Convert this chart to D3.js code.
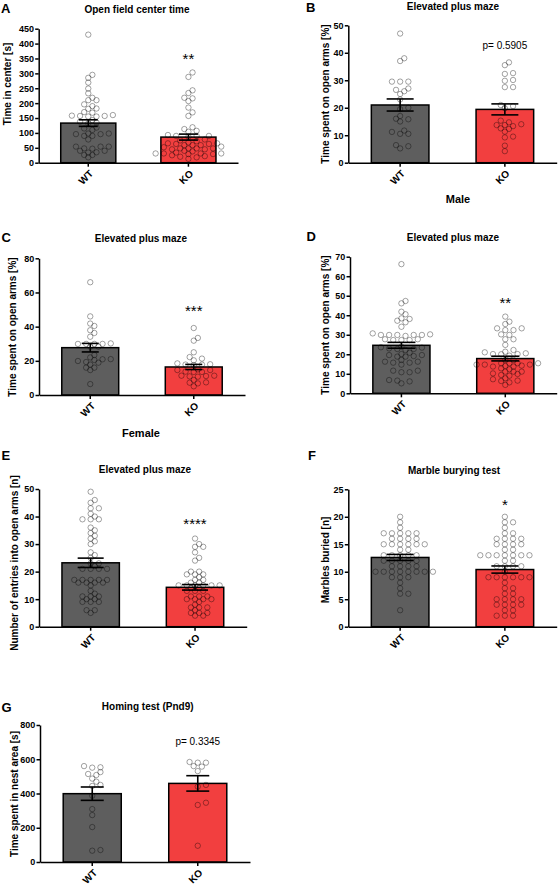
<!DOCTYPE html>
<html><head><meta charset="utf-8">
<script src="https://cdn.jsdelivr.net/npm/d3@7"></script>
<style>
body{margin:0;background:#fff}
svg{display:block}
text{font-family:Arial,"Liberation Sans",sans-serif;fill:#000}
</style>
</head><body>
<svg id="chart" width="559" height="886"></svg>
<script>
const groups = ["WT", "KO"];

// A: Open field center time
const openFieldTicks = [0, 50, 100, 150, 200, 250, 300, 350, 400, 450];
const openFieldWT = [430,295,285,269,249,233,210,218,210,196,190,181,182,160,168,170,155,155,157,158,157,143,135,132,138,118,115,98,96,110,98,96,90,90,78,54,48,54,54,47,40,34,40,35,26,26,18];
const openFieldKO = [303,288,243,234,216,218,207,185,169,157,119,113,107,104,93,90,87,90,90,78,75,72,68,65,65,63,63,59,59,59,54,52,48,48,48,48,45,45,40,38,34,31,31,31,31,29,29,25,22,20,18,13];
const openFieldMean = [133, 86];
const openFieldSem = [11, 10];

// B: EPM male
const epmMaleTicks = [0, 10, 20, 30, 40, 50];
const epmMaleWT = [47,37,38,29.5,29.5,29.5,27,26,26.5,25,23,19.5,20,16,15,15.8,17,11.7,10.5,10.5,11.2,6.4,6,5.2];
const epmMaleKO = [35.5,36.5,32.6,32.3,29.8,30.1,27.5,27.5,20.6,21,19.8,15.3,14,13.7,14.7,13.7,12.3,12.5,13.3,11.3,9.5,9.2,6.2,4.2];
const epmMaleMean = [21, 19.4];
const epmMaleSem = [2.2, 2.0];

// C: EPM female
const epmFemaleTicks = [0, 20, 40, 60, 80];
const epmFemaleWT = [66,46,41.8,40.4,37.9,36.3,34.1,29.9,29.9,28.3,29.9,29.9,30.2,28.3,22,19.3,21,17.8,19.9,16,14.6,20.5,16,20.9,18.9,23.4,6.4];
const epmFemaleKO = [39.2,33.4,31.8,25,21.3,20.3,22.2,18.5,17.8,17.5,17.8,18,13.7,14.6,13.5,15,13.5,14.6,11.1,10.7,11.3,10.9,11.3,8.8,7.2,6.8,7.4,5.1];
const epmFemaleMean = [27.7, 16.4];
const epmFemaleSem = [2.5, 1.5];

// D: EPM all
const epmAllTicks = [0, 10, 20, 30, 40, 50, 60, 70];
const epmAllWT = [66.2,46.1,47.3,41.8,40.5,38.4,37.2,38.1,34.1,36.4,29.9,30.7,29.9,29.9,29.9,29.9,30.2,29.4,27.3,27.7,27.3,27.3,27.7,23.6,22.2,22.7,23.4,23,22.7,23.9,19.6,18.8,20.1,19.6,18.8,20.8,19.1,16.2,15.7,15.7,16.2,14.7,17.1,11.6,10.8,10.8,11.6,6.5,5.1,6.1,6.8];
const epmAllKO = [39.3,36.7,35.5,33.3,32.4,32.4,33.3,30.2,29.9,27.7,27.7,24.8,22.2,21.3,20.5,20,19.3,20.1,20.1,21,17.1,15.4,15.4,14.7,14.7,14.7,15.4,15.4,17.1,13.7,14,13.7,14.2,12.3,11.1,11.1,10.2,9.9,11.1,12.8,9,9.4,7.2,6.3,4.3,5.6,6.5,7.7];
const epmAllMean = [24.6, 17.8];
const epmAllSem = [1.5, 1.2];

// E: EPM entries
const entriesTicks = [0, 10, 20, 30, 40, 50];
const entriesWT = [49,46,45,43,43,41,40,39,39,39,36,35,34,33,32,31,30,27,26,25,23,23,22,21,21,21,21,17,17,17,17,17,16,16,15,16,16,13,11,11,10,11,12,9,9,9,10,6,6,5];
const entriesKO = [32,30,29,29,27,25,24,19,18,20,20,19,19,17,17,16,15,15,15,15,16,15,15,14,13,13,13,14,11,11,11,10,10,9,8,10,10,7,7,7,5,5,4,4,5,6];
const entriesMean = [23.2, 14.3];
const entriesSem = [1.7, 1.0];

// F: Marble burying
const marbleTicks = [0, 5, 10, 15, 20, 25];
const marbleWT = [20,19,18,17,17,17,17,17,16,16,16,16,15,15,15,15,15,15,14,14,13,13,13,13,13,12,12,12,12,12,11,11,11,11,10,10,10,10,10,10,10,10,9,9,9,8,7,6,6,3];
const marbleKO = [20,19,19,18,17,17,16,16,16,16,15,15,15,15,14,14,13,13,13,13,13,13,13,12,12,11,11,11,11,10,9,9,9,9,9,9,8,7,7,6,6,5,5,5,5,4,4,4,4,3,3,2,2,2];
const marbleMean = [12.6, 10.4];
const marbleSem = [0.55, 0.65];

// G: Homing test
const homingTicks = [0, 200, 400, 600, 800];
const homingWT = [551,560,553,514,508,525,469,487,444,450,387,309,274,204,66,70];
const homingKO = [584,580,580,557,560,531,440,450,346,333,95];
const homingMean = [399, 459];
const homingSem = [39, 45];

const barColors = ["#5e5e5e", "#f23f3f"];

const panels = [
  {letter:"A", title:"Open field center time", ylabel:"Time in center [s]", wt:openFieldWT, ko:openFieldKO, mean:openFieldMean, sem:openFieldSem, ticks:openFieldTicks, sig:"**", sigVal:362,
   x0:38.7, x1:238, yTop:28.7, yBot:162.7, titleX:137, titleY:13, letterX:1, letterY:13, ylabX:7.5, ylabY:84, cap:19},
  {letter:"B", title:"Elevated plus maze", ylabel:"Time spent on open arms [%]", wt:epmMaleWT, ko:epmMaleKO, mean:epmMaleMean, sem:epmMaleSem, ticks:epmMaleTicks, sig:"p= 0.5905", sigVal:42.6,
   x0:348.3, x1:556.7, yTop:25.3, yBot:162.7, titleX:453, titleY:10, letterX:306, letterY:12, ylabX:325.5, ylabY:94, cap:27, sub:"Male", subX:458, subY:199},
  {letter:"C", title:"Elevated plus maze", ylabel:"Time spent on open arms [%]", wt:epmFemaleWT, ko:epmFemaleKO, mean:epmFemaleMean, sem:epmFemaleSem, ticks:epmFemaleTicks, sig:"***", sigVal:51.5,
   x0:39, x1:245, yTop:258.3, yBot:395, titleX:141, titleY:242, letterX:1.5, letterY:242, ylabX:12.5, ylabY:327, cap:17, sub:"Female", subX:141, subY:433},
  {letter:"D", title:"Elevated plus maze", ylabel:"Time spent on open arms [%]", wt:epmAllWT, ko:epmAllKO, mean:epmAllMean, sem:epmAllSem, ticks:epmAllTicks, sig:"**", sigVal:48.3,
   x0:350, x1:556.7, yTop:256.7, yBot:393.3, titleX:453, titleY:240.5, letterX:306.5, letterY:241, ylabX:325.5, ylabY:325, cap:28},
  {letter:"E", title:"Elevated plus maze", ylabel:"Number of entries into open arms [n]", wt:entriesWT, ko:entriesKO, mean:entriesMean, sem:entriesSem, ticks:entriesTicks, sig:"****", sigVal:38.7,
   x0:39, x1:246.7, yTop:489, yBot:626.7, titleX:145, titleY:473, letterX:1.5, letterY:459.5, ylabX:14, ylabY:563, cap:26},
  {letter:"F", title:"Marble burying test", ylabel:"Marbles buried [n]", wt:marbleWT, ko:marbleKO, mean:marbleMean, sem:marbleSem, ticks:marbleTicks, sig:"*", sigVal:22.9,
   x0:348.3, x1:556.7, yTop:489.3, yBot:626.7, titleX:454, titleY:474, letterX:308, letterY:459.5, ylabX:325.5, ylabY:560, cap:27},
  {letter:"G", title:"Homing test (Pnd9)", ylabel:"Time spent in nest area [s]", wt:homingWT, ko:homingKO, mean:homingMean, sem:homingSem, ticks:homingTicks, sig:"p= 0.3345", sigVal:706,
   x0:40, x1:250, yTop:725, yBot:862, titleX:147.7, titleY:709.5, letterX:1.5, letterY:712, ylabX:14.5, ylabY:794, cap:23}
];

// Row-style beeswarm on a half-spacing grid; diamond-shaped exclusion zone
function swarm(values, y, cx, step, minDx, minDy) {
  const pts = values.map(v => ({v, y: y(v)})).sort((a, b) => a.v - b.v);
  const placed = [];
  const cands = [0];
  for (let i = 1; i < 40; i++) { cands.push(i * step, -i * step); }
  for (const p of pts) {
    for (const dx of cands) {
      const x = cx + dx;
      if (placed.every(q => Math.abs(q.x - x) / minDx + Math.abs(q.y - p.y) / minDy >= 0.999)) { p.x = x; break; }
    }
    placed.push(p);
  }
  return pts;
}

const svg = d3.select("#chart");

panels.forEach(p => {
  const g = svg.append("g");
  const x = d3.scaleBand().domain(groups).range([p.x0, p.x1]).paddingInner(0.45).paddingOuter(0.22);
  const y = d3.scaleLinear().domain([p.ticks[0], p.ticks[p.ticks.length - 1]]).range([p.yBot, p.yTop]);
  const cx = d => x(d) + x.bandwidth() / 2;

  // bars
  g.selectAll("rect.bar").data(groups).join("rect")
    .attr("class", "bar")
    .attr("x", d => x(d)).attr("width", x.bandwidth())
    .attr("y", (d, i) => y(p.mean[i])).attr("height", (d, i) => y(0) - y(p.mean[i]))
    .attr("fill", (d, i) => barColors[i]).attr("stroke", "#000").attr("stroke-width", 1.5);

  // points
  [p.wt, p.ko].forEach((vals, i) => {
    const pts = swarm(vals, y, cx(groups[i]), 4.1, 8.2, 4.6);
    g.append("g").selectAll("circle").data(pts).join("circle")
      .attr("cx", d => d.x).attr("cy", d => d.y).attr("r", 2.7)
      .attr("fill", "none").attr("stroke", "#000").attr("stroke-opacity", 0.36).attr("stroke-width", 1);
  });

  // error bars
  groups.forEach((gname, i) => {
    const c = cx(gname);
    const hi = y(p.mean[i] + p.sem[i]), lo = y(p.mean[i] - p.sem[i]);
    const eb = g.append("g").attr("stroke", "#000").attr("stroke-width", 1.6);
    eb.append("line").attr("x1", c).attr("x2", c).attr("y1", hi).attr("y2", lo);
    eb.append("line").attr("x1", c - p.cap / 2).attr("x2", c + p.cap / 2).attr("y1", hi).attr("y2", hi);
    eb.append("line").attr("x1", c - p.cap / 2).attr("x2", c + p.cap / 2).attr("y1", lo).attr("y2", lo);
  });

  // y axis
  const ya = g.append("g").attr("transform", `translate(${p.x0},0)`)
    .call(d3.axisLeft(y).tickValues(p.ticks).tickFormat(d3.format("d")).tickSize(3.5).tickSizeOuter(0).tickPadding(1.2));
  ya.selectAll("path,line").attr("stroke", "#000").attr("stroke-width", 1.5);
  ya.selectAll("text").attr("font-size", 9).attr("font-weight", "bold").attr("font-family", "Arial, 'Liberation Sans', sans-serif").attr("fill", "#000");

  // x axis
  const xa = g.append("g").attr("transform", `translate(0,${p.yBot})`)
    .call(d3.axisBottom(x).tickSize(4).tickSizeOuter(0).tickFormat(""));
  xa.selectAll("path,line").attr("stroke", "#000").attr("stroke-width", 1.5);

  // x labels
  g.selectAll("text.xl").data(groups).join("text")
    .attr("class", "xl")
    .attr("transform", d => `translate(${cx(d) + 3},${p.yBot + 9}) rotate(-45)`)
    .attr("text-anchor", "end").attr("dy", "0.35em")
    .attr("font-size", 10).attr("font-weight", "bold").text(d => d);

  // y label
  g.append("text")
    .attr("transform", `translate(${p.ylabX},${p.ylabY}) rotate(-90)`)
    .attr("text-anchor", "middle").attr("dy", "0.35em")
    .attr("font-size", 10).attr("font-weight", "bold").text(p.ylabel);

  // title
  g.append("text").attr("x", p.titleX).attr("y", p.titleY).attr("text-anchor", "middle")
    .attr("font-size", 10).attr("font-weight", "bold").text(p.title);

  // panel letter
  g.append("text").attr("x", p.letterX).attr("y", p.letterY)
    .attr("font-size", 13).attr("font-weight", "bold").text(p.letter);

  // significance
  const isStar = p.sig.startsWith("*");
  g.append("text").attr("x", cx("KO")).attr("y", y(p.sigVal))
    .attr("text-anchor", "middle")
    .attr("dy", isStar ? "0.6em" : "0.35em")
    .attr("font-size", isStar ? 15 : 10)
    .attr("fill", "#222")
    .text(p.sig);

  if (p.sub) {
    g.append("text").attr("x", p.subX).attr("y", p.subY).attr("dy", "0.35em")
      .attr("text-anchor", "middle").attr("font-size", 11).attr("font-weight", "bold").text(p.sub);
  }
});
</script>
</body></html>
